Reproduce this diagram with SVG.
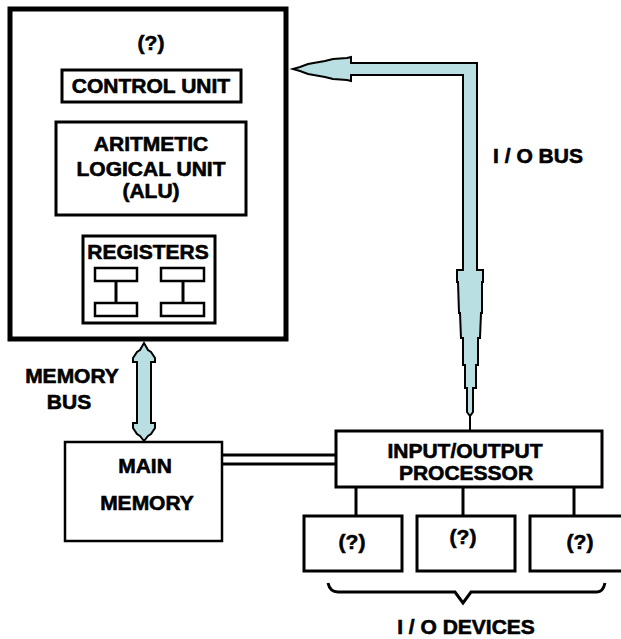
<svg xmlns="http://www.w3.org/2000/svg" width="621" height="639" viewBox="0 0 621 639">
<style>
.t{font-family:"Liberation Sans",Arial,sans-serif;font-weight:bold;font-size:21px;fill:#000;stroke:#000;stroke-width:0.6;text-anchor:middle}
.box{fill:#fff;stroke:#000;stroke-width:3}
.thin{fill:#fff;stroke:#000;stroke-width:2.5}
.bus{fill:#b9dfe2;stroke:#000;stroke-width:2;stroke-linejoin:miter}
.ln{fill:none;stroke:#000;stroke-width:3}
</style>
<rect width="621" height="639" fill="#fff"/>
<g id="connectors">
  <path class="bus" d="M293,69 L300,67 L308,64 L325,61 L333,59 L347,58 L351,57 L351,63 L477,63 L477,270 L483,270 L483,282 L482,282 L482,313 L481,313 L480,338 L478,338 L478,365 L476,365 L476,388 L473,388 L473,412 L470,416 L467,412 L467,388 L465,388 L465,365 L463,365 L463,338 L461,338 L460,313 L459,313 L458,282 L457,282 L457,270 L463,270 L463,75 L351,75 L351,81 L347,80 L333,79 L325,77 L308,74 L300,71 Z"/>
  <line x1="470" y1="415" x2="470" y2="431" stroke="#000" stroke-width="2"/>
  <path class="bus" d="M144,343 L148,350 L151,352 L155,358 L155,362 L151,362 L151,423 L155,423 L155,428 L151,434 L148,436 L144,441 L140,436 L137,434 L133,428 L133,423 L137,423 L137,362 L133,362 L133,358 L137,352 L140,350 Z"/>
  <line class="ln" x1="222" y1="455" x2="336" y2="455" stroke-width="2.5"/>
  <line class="ln" x1="222" y1="464" x2="336" y2="464" stroke-width="2.5"/>
  <line class="ln" x1="356" y1="487" x2="356" y2="516"/>
  <line class="ln" x1="463" y1="487" x2="463" y2="516"/>
  <line class="ln" x1="574" y1="487" x2="574" y2="516"/>
  <path class="ln" d="M328,583 Q330,592 338,592 L455,592 L463,603 L471,592 L597,592 Q603,592 605,583"/>
</g>
<g id="cpu">
  <rect x="10" y="9" width="276" height="330" fill="#fff" stroke="#000" stroke-width="5"/>
  <text class="t" x="151" y="50">(?)</text>
</g>
<g id="control-unit">
  <rect class="box" x="62" y="70" width="179" height="32"/>
  <text class="t" x="151" y="93">CONTROL UNIT</text>
</g>
<g id="alu">
  <rect class="box" x="56" y="122" width="190" height="93"/>
  <text class="t" x="151" y="151">ARITMETIC</text>
  <text class="t" x="151" y="176">LOGICAL UNIT</text>
  <text class="t" x="151" y="198">(ALU)</text>
</g>
<g id="registers">
  <rect class="box" x="83" y="236" width="132" height="87"/>
  <text class="t" x="148" y="259" font-size="20">REGISTERS</text>
  <rect class="thin" x="95" y="268" width="42" height="13"/>
  <rect class="thin" x="95" y="303" width="42" height="13"/>
  <line class="ln" x1="116" y1="281" x2="116" y2="303"/>
  <rect class="thin" x="161" y="268" width="43" height="13"/>
  <rect class="thin" x="161" y="303" width="43" height="13"/>
  <line class="ln" x1="183" y1="281" x2="183" y2="303"/>
</g>
<g id="memory-bus-label">
  <text class="t" x="72" y="383">MEMORY</text>
  <text class="t" x="69" y="409">BUS</text>
</g>
<g id="io-bus-label">
  <text class="t" x="538" y="163">I / O BUS</text>
</g>
<g id="main-memory">
  <rect x="65" y="442" width="157" height="99" fill="#fff" stroke="#000" stroke-width="2.5"/>
  <text class="t" x="145" y="473">MAIN</text>
  <text class="t" x="147" y="510">MEMORY</text>
</g>
<g id="io-processor">
  <rect class="box" x="336" y="431" width="266" height="56"/>
  <text class="t" x="465" y="458">INPUT/OUTPUT</text>
  <text class="t" x="466" y="480">PROCESSOR</text>
</g>
<g id="device-1">
  <rect class="box" x="304" y="516" width="98" height="55"/>
  <text class="t" x="352" y="549">(?)</text>
</g>
<g id="device-2">
  <rect class="box" x="417" y="516" width="98" height="55"/>
  <text class="t" x="463" y="544">(?)</text>
</g>
<g id="device-3">
  <rect class="box" x="530" y="516" width="100" height="55"/>
  <text class="t" x="580" y="549">(?)</text>
</g>
<g id="io-devices-label">
  <text class="t" x="466" y="634">I / O DEVICES</text>
</g>
</svg>
